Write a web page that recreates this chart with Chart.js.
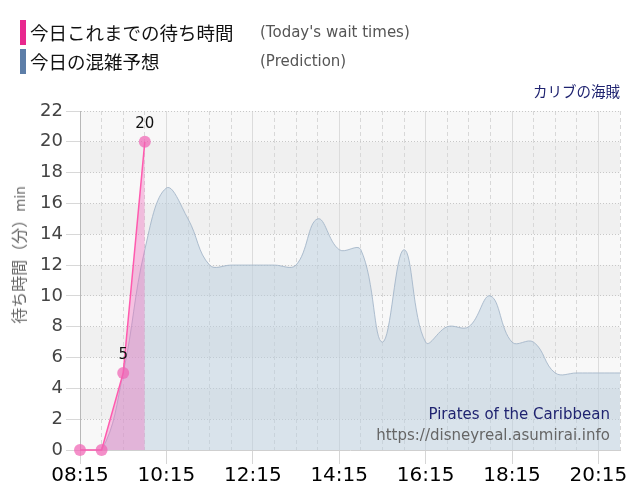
<!DOCTYPE html>
<html lang="ja">
<head>
<meta charset="utf-8">
<script src="https://cdn.jsdelivr.net/npm/chart.js@4.4.1/dist/chart.umd.min.js"></script>
<style>
    html, body { margin: 0; padding: 0; background: #fff; }
    #wrap { position: relative; width: 640px; height: 500px; overflow: hidden; font-family: "DejaVu Sans", Verdana, sans-serif; }
    #chart { position: absolute; left: 0; top: 0; }
    .bar { position: absolute; left: 20px; width: 6px; height: 25px; }
    .jp { position: absolute; left: 30px; font-family: "Noto Sans CJK JP", sans-serif; font-size: 18.5px; color: #111; line-height: 25px; }
    .en { position: absolute; left: 260px; font-size: 15px; color: #555; line-height: 25px; }
    #ride-jp { position: absolute; right: 20px; top: 80px; font-family: "Noto Sans CJK JP", sans-serif; font-size: 14.5px; color: #1f2370; line-height: 22px; }
    #ytitle { position: absolute; left: 18px; top: 255px; transform: translate(-50%, -50%) rotate(-90deg); white-space: nowrap;
              font-family: "Noto Sans CJK JP", sans-serif; font-size: 16px; color: #666; }
    #ytitle span { font-family: "DejaVu Sans", sans-serif; font-size: 13.5px; }
    #ride-en { position: absolute; right: 30px; top: 405px; font-size: 15px; color: #1f2370; }
    #url { position: absolute; right: 30px; top: 426px; font-size: 15px; color: #666; }
</style>
</head>
<body>
<div id="wrap">
    <canvas id="chart" width="640" height="500"></canvas>
    <div class="bar" style="top:20px;background:#e8288e;"></div>
    <div class="jp" style="top:20px;">今日これまでの待ち時間</div>
    <div class="en" style="top:20px;">(Today's wait times)</div>
    <div class="bar" style="top:49px;background:#5d7ea8;"></div>
    <div class="jp" style="top:49px;">今日の混雑予想</div>
    <div class="en" style="top:49px;">(Prediction)</div>
    <div id="ride-jp">カリブの海賊</div>
    <div id="ytitle">待ち時間（分）<span>min</span></div>
    <div id="ride-en">Pirates of the Caribbean</div>
    <div id="url">https://disneyreal.asumirai.info</div>
</div>
<script>
const timeLabels = [
    '08:15', '08:45', '09:15', '09:45', '10:15', '10:45', '11:15', '11:45',
    '12:15', '12:45', '13:15', '13:45', '14:15', '14:45', '15:15', '15:45',
    '16:15', '16:45', '17:15', '17:45', '18:15', '18:45', '19:15', '19:45',
    '20:15', '20:45'
];
// today's actual wait (only the morning so far)
const actualWait = [0, 0, 5, 20];
// predicted crowd level
const predictedWait = [
    0, 0, 5, 13, 17, 15, 12, 12,
    12, 12, 12, 15, 13, 13, 7, 13,
    7, 8, 8, 10, 7, 7, 5, 5,
    5, 5
];
const yMax = 22;
const yStep = 2;

const FONT = '"DejaVu Sans", Verdana, sans-serif';

// striped plot background
const bandPlugin = {
    id: 'bands',
    beforeDraw(chart) {
        const { ctx, chartArea: a, scales: { y } } = chart;
        ctx.save();
        ctx.fillStyle = '#f8f8f8';
        ctx.fillRect(a.left, a.top, a.right - a.left, a.bottom - a.top);
        ctx.fillStyle = '#f0f0f0';
        for (let v = 0; v < yMax; v += yStep) {
            if ((v / yStep) % 2 === 1) {
                const top = y.getPixelForValue(v + yStep);
                const bottom = y.getPixelForValue(v);
                ctx.fillRect(a.left, top, a.right - a.left, bottom - top);
            }
        }
        ctx.restore();
    }
};

// numbers above the measured points
const valueLabelPlugin = {
    id: 'valueLabels',
    afterDatasetsDraw(chart) {
        const { ctx } = chart;
        const meta = chart.getDatasetMeta(0);
        ctx.save();
        ctx.font = '15px ' + FONT;
        ctx.fillStyle = '#111';
        ctx.textAlign = 'center';
        ctx.textBaseline = 'middle';
        meta.data.forEach((pt, i) => {
            const v = actualWait[i];
            if (v > 0) {
                ctx.fillText(String(v), pt.x, pt.y - 18);
            }
        });
        ctx.restore();
    }
};

new Chart(document.getElementById('chart'), {
    type: 'line',
    data: {
        labels: timeLabels,
        datasets: [
            {
                label: '今日これまでの待ち時間',
                data: actualWait,
                borderColor: '#ff5aae',
                borderWidth: 1.5,
                backgroundColor: 'rgba(240, 110, 190, 0.4)',
                fill: 'origin',
                tension: 0,
                clip: false,
                pointRadius: 6,
                pointHoverRadius: 6,
                pointBackgroundColor: 'rgba(240, 100, 180, 0.72)',
                pointBorderWidth: 0,
                spanGaps: false
            },
            {
                label: '今日の混雑予想',
                data: predictedWait,
                borderColor: 'rgba(165, 183, 202, 0.9)',
                borderWidth: 1,
                backgroundColor: 'rgba(185, 205, 222, 0.5)',
                fill: 'origin',
                tension: 0.4,
                pointRadius: 0
            }
        ]
    },
    options: {
        responsive: false,
        animation: false,
        layout: {
            padding: { top: 111, right: 20, left: 0, bottom: 0 }
        },
        plugins: {
            legend: { display: false },
            tooltip: { enabled: false }
        },
        scales: {
            x: {
                ticks: {
                    autoSkip: false,
                    maxRotation: 0,
                    color: '#000',
                    font: { size: 20, family: FONT },
                    padding: 0,
                    callback: (v, i) => (i % 4 === 0 ? timeLabels[i] : '')
                },
                grid: {
                    color: c => (c.index % 4 === 0 ? '#dcdcdc' : '#d8d8d8'),
                    tickColor: c => (c.index % 4 === 0 ? '#d6d6d6' : 'rgba(0,0,0,0)'),
                    tickLength: 14
                },
                border: {
                    color: '#cfcfcf',
                    dash: c => (c.index % 4 === 0 ? [] : [4, 3])
                },
                afterFit: s => { s.height = 50; }
            },
            y: {
                min: 0,
                max: yMax,
                ticks: {
                    stepSize: yStep,
                    color: '#444',
                    font: { size: 18, family: FONT },
                    padding: 3
                },
                grid: {
                    color: '#c8c8c8',
                    tickColor: '#d8d8d8',
                    tickLength: 14
                },
                border: {
                    color: '#b8b8b8',
                    dash: [1, 2]
                },
                afterFit: s => { s.width = 80; }
            }
        }
    },
    plugins: [bandPlugin, valueLabelPlugin]
});
</script>
</body>
</html>
